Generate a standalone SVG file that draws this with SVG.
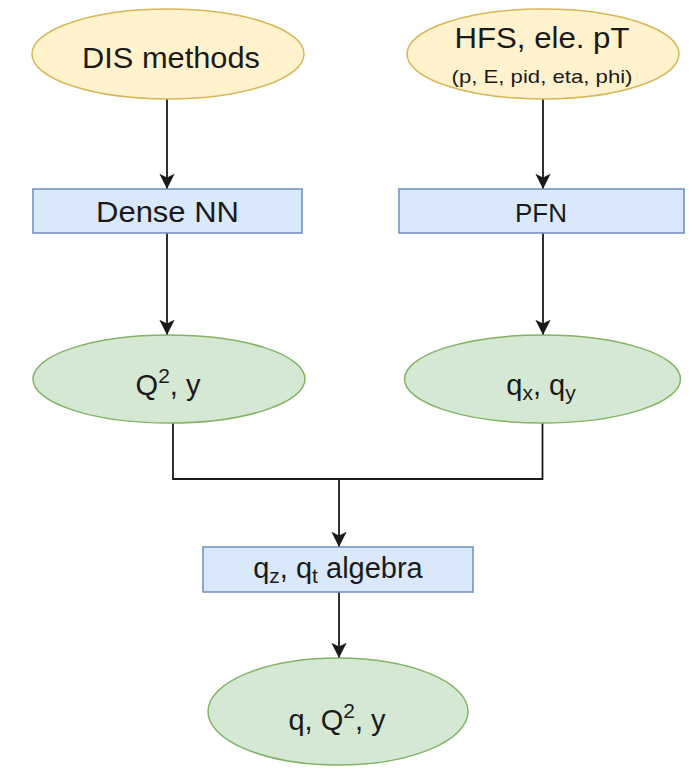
<svg xmlns="http://www.w3.org/2000/svg" width="695" height="768" viewBox="0 0 695 768">
<style>
.yel{fill:#fff2cc;stroke:#d6b656;stroke-width:1.5}
.blu{fill:#dae8fc;stroke:#6c8ebf;stroke-width:1.5}
.grn{fill:#d5e8d4;stroke:#82b366;stroke-width:1.5}
text{font-family:"Liberation Sans",Arial,Helvetica,sans-serif;fill:#1a1a1a;text-anchor:middle}
.big{font-size:29px}
.edge{fill:none;stroke:#1a1a1a;stroke-width:1.8}
</style>
<defs>
<marker id="arr" viewBox="0 0 10 10" refX="10" refY="5" markerWidth="8.5" markerHeight="8.5" markerUnits="strokeWidth" orient="auto">
<path d="M0,0 L10,5 L0,10 L2.5,5 z" fill="#1a1a1a"/>
</marker>
</defs>
<g id="connectors">
<line class="edge" x1="167" y1="99" x2="167" y2="189" marker-end="url(#arr)"/>
<line class="edge" x1="543" y1="99" x2="543" y2="189" marker-end="url(#arr)"/>
<line class="edge" x1="167" y1="233" x2="167" y2="335" marker-end="url(#arr)"/>
<line class="edge" x1="543" y1="233" x2="543" y2="335" marker-end="url(#arr)"/>
<path class="edge" d="M173,423 V479 H542.5 V423"/>
<line class="edge" x1="339" y1="479" x2="339" y2="547" marker-end="url(#arr)"/>
<line class="edge" x1="339" y1="592" x2="339" y2="658" marker-end="url(#arr)"/>
</g>
<g id="dis">
<ellipse class="yel" cx="168" cy="54" rx="136" ry="45"/>
<text class="big" x="171" y="68" textLength="178" lengthAdjust="spacingAndGlyphs">DIS methods</text>
</g>
<g id="hfs">
<ellipse class="yel" cx="543" cy="54" rx="136" ry="45"/>
<text class="big" x="542" y="48" textLength="175" lengthAdjust="spacingAndGlyphs">HFS, ele. pT</text>
<text x="542" y="83" font-size="19" textLength="181" lengthAdjust="spacingAndGlyphs">(p, E, pid, eta, phi)</text>
</g>
<g id="dense">
<rect class="blu" x="33" y="189" width="269" height="44"/>
<text class="big" x="167.5" y="222" textLength="143" lengthAdjust="spacingAndGlyphs">Dense NN</text>
</g>
<g id="pfn">
<rect class="blu" x="399" y="189" width="285" height="44"/>
<text x="541" y="222" font-size="26">PFN</text>
</g>
<g id="q2y">
<ellipse class="grn" cx="169" cy="379" rx="136" ry="44"/>
<text class="big" x="168" y="395">Q<tspan font-size="21" dy="-12">2</tspan><tspan dy="12">, y</tspan></text>
</g>
<g id="qxqy">
<ellipse class="grn" cx="542.5" cy="379" rx="138" ry="44"/>
<text class="big" x="541" y="395">q<tspan font-size="21" dy="5">x</tspan><tspan dy="-5">, q</tspan><tspan font-size="21" dy="5">y</tspan></text>
</g>
<g id="algebra">
<rect class="blu" x="203" y="547" width="270" height="45"/>
<text class="big" x="338" y="578">q<tspan font-size="21" dy="5">z</tspan><tspan dy="-5">, q</tspan><tspan font-size="21" dy="5">t</tspan><tspan dy="-5"> algebra</tspan></text>
</g>
<g id="result">
<ellipse class="grn" cx="338" cy="711.5" rx="130" ry="53.5"/>
<text class="big" x="337" y="730">q, Q<tspan font-size="21" dy="-12">2</tspan><tspan dy="12">, y</tspan></text>
</g>
</svg>
